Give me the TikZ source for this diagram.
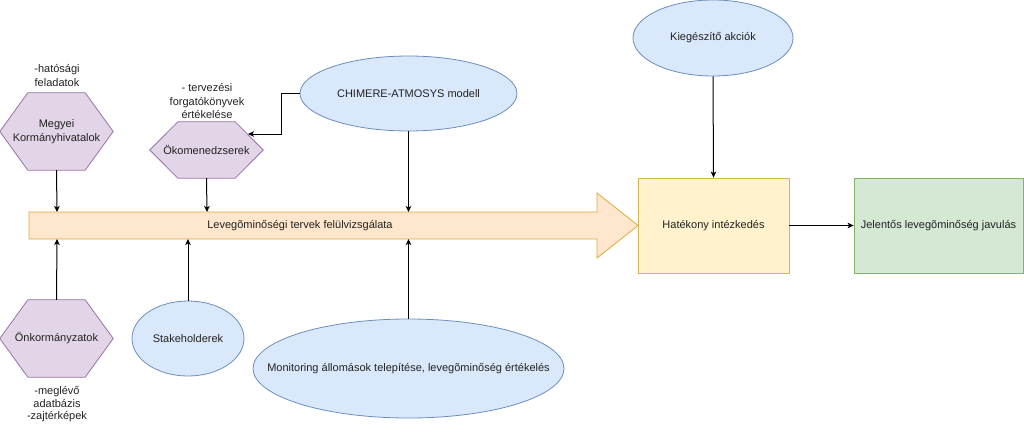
\documentclass[tikz,border=0pt]{standalone}
\usepackage{fontspec}
\setmainfont{Liberation Sans}
\usetikzlibrary{shapes.geometric,calc,arrows.meta,backgrounds}
\definecolor{hexfill}{HTML}{E1D5E7}
\definecolor{hexdraw}{HTML}{9673A6}
\definecolor{elfill}{HTML}{DAE8FC}
\definecolor{eldraw}{HTML}{6C8EBF}
\definecolor{arfill}{HTML}{FFE6CC}
\definecolor{ardraw}{HTML}{DDA93A}
\definecolor{yfill}{HTML}{FFF2CC}
\definecolor{ydraw}{HTML}{D6B656}
\definecolor{gfill}{HTML}{D5E8D4}
\definecolor{gdraw}{HTML}{82B366}
\definecolor{txt}{HTML}{222222}
\newcommand{\zw}[1]{\makebox[0pt][c]{#1}}
\begin{document}
\begin{tikzpicture}[x=1pt,y=-1pt,
  font=\fontsize{11}{13.5}\selectfont, text=txt,
  ell/.style={ellipse, draw=eldraw, fill=elfill, line width=0.8pt, inner sep=0pt},
  hexbox/.style={inner sep=0pt, align=center, minimum width=113pt},
  hexline/.style={draw=hexdraw, fill=hexfill, line width=0.8pt},
  lab/.style={inner sep=0pt, align=center},
  ybox/.style={draw=ydraw, fill=yfill, line width=0.8pt, minimum width=151pt, minimum height=95pt, inner sep=0pt},
  gbox/.style={draw=gdraw, fill=gfill, line width=0.8pt, minimum width=169pt, minimum height=95pt, inner sep=0pt},
  conn/.style={draw=black, line width=1pt, -{Stealth[length=6pt,width=5.5pt,inset=1.5pt]}}]
\useasboundingbox (0,0) rectangle (1024,433);

% big arrow
\draw[draw=ardraw, fill=arfill, line width=0.8pt] (29,212) -- (597,212) -- (597,193) -- (638,225.5) -- (597,258) -- (597,239) -- (29,239) -- cycle;
\node[lab] (flow) at (300,226) {Levegõminőségi tervek felülvizsgálata};
\coordinate (t1) at (57,212);
\coordinate (t2) at (207,212);
\coordinate (t3) at (408.5,212);
\coordinate (b1) at (57,239);
\coordinate (b2) at (188,239);
\coordinate (b3) at (408.5,239);

% hexagons
\node[hexbox, minimum height=77pt] (meg) at (56.5,131.5) {Megyei\\Kormányhivatalok};
\node[hexbox, minimum height=56pt] (oko) at (206.5,150) {Ökomenedzserek};
\node[hexbox, minimum height=77pt] (onk) at (56.5,338.5) {Önkormányzatok};
\begin{scope}[on background layer]
\foreach \n in {meg,oko,onk}{
  \draw[hexline] (\n.west) -- ($(\n.north west)+(28,0)$) -- ($(\n.north east)+(-28,0)$) -- (\n.east) -- ($(\n.south east)+(-28,0)$) -- ($(\n.south west)+(28,0)$) -- cycle;
}
\end{scope}

% labels
\node[lab] (lmeg) at (57,75.5) {-hatósági\\feladatok};
\node[lab] (loko) at (207,101.5) {- tervezési\\forgatókönyvek\\értékelése};
\node[lab, font=\fontsize{11}{12.5}\selectfont] (lonk) at (57,404.5) {-meglévő\\adatbázis\\-zajtérképek};

% ellipses
\node[ell, minimum width=217pt, minimum height=75pt] (chim) at (408.5,93.5) {\zw{CHIMERE-ATMOSYS modell}};
\node[ell, minimum width=112pt, minimum height=75pt] (stake) at (188,338.5) {\zw{Stakeholderek}};
\node[ell, minimum width=311pt, minimum height=99pt] (mon) at (408.5,368.5) {\zw{Monitoring állomások telepítése, levegõminőség értékelés}};
\node[ell, minimum width=160pt, minimum height=76pt] (kieg) at (713,38) {\zw{Kiegészítő akciók}};

% boxes
\node[ybox] (hat) at (713.5,225.5) {Hatékony intézkedés};
\node[gbox] (jel) at (938.5,225.5) {Jelentős levegõminőség javulás};

% connectors
\draw[conn] (meg.south) -- (t1);
\draw[conn] (oko.south) -- (t2);
\draw[conn] (chim.south) -- (t3);
\draw[conn] (onk.north) -- (b1);
\draw[conn] (stake.north) -- (b2);
\draw[conn] (mon.north) -- (b3);
\coordinate (okoin) at (248,134);
\draw[conn] (chim.west) -- ++(-18,0) |- (okoin);
\draw[conn] (kieg.south) -- (hat.north);
\draw[conn] (hat.east) -- (jel.west);
\end{tikzpicture}
\end{document}
